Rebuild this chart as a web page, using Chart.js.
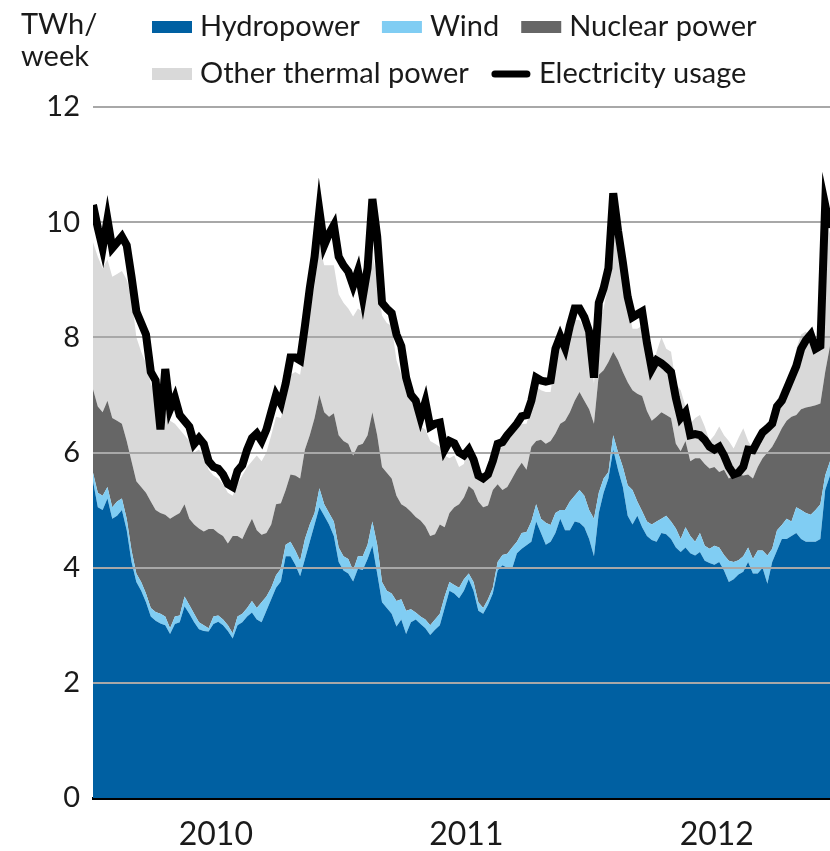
<!DOCTYPE html>
<html>
<head>
<meta charset="utf-8">
<script src="https://cdn.jsdelivr.net/npm/chart.js@4.4.1/dist/chart.umd.min.js"></script>
<style>
  html, body { margin: 0; padding: 0; background: #fff; }
  #wrap { width: 830px; height: 851px; }
</style>
</head>
<body>
<div id="wrap"><canvas id="powerChart"></canvas></div>
<script>
// Weekly power balance, week 1 of 2010 onwards (TWh/week)
const weeks = Array.from({ length: 154 }, (_, i) => i);

const yearTicks = [25.5, 77.5, 129.5];
const yearLabels = ['2010', '2011', '2012'];
const yTicks = [0, 2, 4, 6, 8, 10, 12];

const hydro = [
  5.5, 5.05, 5.0, 5.2, 4.85, 4.9, 5.0, 4.65, 4.1, 3.75,
  3.6, 3.4, 3.15, 3.08, 3.03, 3.0, 2.85, 3.02, 3.05, 3.33,
  3.2, 3.05, 2.93, 2.9, 2.89, 3.02, 3.06, 3.0, 2.9, 2.77,
  3.0, 3.05, 3.15, 3.22, 3.1, 3.05, 3.25, 3.45, 3.65, 3.76,
  4.2, 4.2, 4.05, 3.85, 4.15, 4.45, 4.75, 5.05, 4.9, 4.75,
  4.55, 4.1, 3.95, 3.9, 3.76, 3.98, 3.96, 4.15, 4.38, 3.9,
  3.4, 3.3, 3.2, 2.98, 3.1, 2.85, 3.05, 3.1, 3.02, 2.95,
  2.83, 2.92, 3.0, 3.3, 3.6, 3.55, 3.47, 3.6, 3.8, 3.6,
  3.25, 3.2, 3.35, 3.55, 3.95, 4.04, 4.0, 3.98, 4.25, 4.33,
  4.39, 4.45, 4.8, 4.6, 4.4, 4.45, 4.6, 4.85, 4.65, 4.65,
  4.8, 4.78, 4.7, 4.5, 4.2, 4.95, 5.3, 5.55, 6.05, 5.7,
  5.4, 4.9, 4.75, 4.9, 4.7, 4.55, 4.48, 4.45, 4.6, 4.58,
  4.5, 4.35, 4.27, 4.35, 4.25, 4.21, 4.27, 4.12, 4.08, 4.05,
  4.1, 3.95, 3.75, 3.8, 3.88, 3.93, 4.1, 3.9, 3.9, 4.0,
  3.72, 4.1, 4.3, 4.5, 4.5, 4.55, 4.6, 4.5, 4.45, 4.45,
  4.45, 4.5, 5.35, 5.6
];

const wind = [
  0.15, 0.25, 0.25, 0.2, 0.2, 0.25, 0.2, 0.2, 0.2, 0.15,
  0.15, 0.15, 0.15, 0.15, 0.17, 0.15, 0.1, 0.13, 0.12, 0.17,
  0.15, 0.15, 0.12, 0.1, 0.06, 0.13, 0.11, 0.1, 0.1, 0.09,
  0.15, 0.15, 0.15, 0.2, 0.2, 0.35, 0.25, 0.2, 0.22, 0.22,
  0.2, 0.25, 0.25, 0.27, 0.35, 0.3, 0.2, 0.33, 0.2, 0.2,
  0.25, 0.25, 0.25, 0.25, 0.19, 0.22, 0.24, 0.25, 0.42, 0.5,
  0.35, 0.3, 0.35, 0.44, 0.35, 0.4, 0.23, 0.12, 0.13, 0.15,
  0.17, 0.18, 0.2, 0.2, 0.15, 0.15, 0.18, 0.2, 0.1, 0.15,
  0.15, 0.1, 0.1, 0.1, 0.15, 0.18, 0.24, 0.37, 0.2, 0.27,
  0.23, 0.35, 0.3, 0.25, 0.38, 0.29, 0.35, 0.15, 0.35, 0.5,
  0.45, 0.57, 0.55, 0.5, 0.65, 0.35, 0.25, 0.11, 0.25, 0.3,
  0.35, 0.53, 0.6, 0.25, 0.28, 0.25, 0.27, 0.35, 0.25, 0.32,
  0.3, 0.33, 0.23, 0.35, 0.3, 0.24, 0.33, 0.26, 0.25, 0.33,
  0.25, 0.27, 0.37, 0.3, 0.25, 0.27, 0.25, 0.25, 0.4, 0.3,
  0.49, 0.23, 0.35, 0.24, 0.35, 0.25, 0.45, 0.5, 0.5, 0.47,
  0.55, 0.6, 0.25, 0.25
];

const nuclear = [
  1.45, 1.5, 1.45, 1.5, 1.55, 1.4, 1.3, 1.35, 1.55, 1.6,
  1.65, 1.75, 1.85, 1.77, 1.75, 1.77, 1.9, 1.75, 1.78, 1.6,
  1.5, 1.55, 1.63, 1.63, 1.72, 1.52, 1.43, 1.45, 1.42, 1.69,
  1.4, 1.3, 1.38, 1.43, 1.35, 1.17, 1.1, 1.1, 1.23, 1.14,
  0.95, 1.17, 1.3, 1.43, 1.55, 1.55, 1.65, 1.62, 1.6, 1.67,
  1.88, 1.95, 2.0, 2.0, 2.0, 1.92, 1.95, 1.9, 1.9, 1.9,
  2.0, 2.05, 2.0, 1.83, 1.65, 1.8, 1.69, 1.66, 1.67, 1.62,
  1.55, 1.48, 1.55, 1.2, 1.2, 1.35, 1.45, 1.42, 1.52, 1.6,
  1.75, 1.75, 1.63, 1.7, 1.35, 1.13, 1.16, 1.2, 1.25, 1.22,
  1.08, 1.3, 1.1, 1.37, 1.37, 1.46, 1.38, 1.5, 1.55, 1.55,
  1.65, 1.7, 1.65, 1.75, 1.65, 2.05, 1.88, 1.91, 1.45, 1.6,
  1.65, 1.79, 1.73, 1.87, 2.0, 1.92, 1.8, 1.82, 1.85, 1.75,
  1.8, 1.47, 1.52, 1.5, 1.3, 1.45, 1.3, 1.42, 1.39, 1.37,
  1.31, 1.48, 1.43, 1.5, 1.49, 1.4, 1.27, 1.4, 1.45, 1.6,
  1.79, 1.77, 1.6, 1.68, 1.7, 1.82, 1.6, 1.75, 1.83, 1.88,
  1.82, 1.75, 1.8, 2.0
];

const otherThermal = [
  2.55, 2.6, 2.5, 2.45, 2.45, 2.55, 2.65, 2.8, 2.85, 2.5,
  2.35, 2.25, 2.05, 2.0, 1.65, 1.83, 1.7, 1.6, 1.45, 1.2,
  1.35, 1.25, 1.37, 1.32, 1.03, 0.93, 0.95, 0.9, 0.88, 0.7,
  0.9, 1.1, 1.07, 1.0, 1.3, 1.28, 1.4, 1.55, 1.52, 1.48,
  1.55, 1.73, 1.8, 1.8, 1.85, 2.15, 2.3, 2.6, 2.55, 2.63,
  2.57, 2.45, 2.4, 2.35, 2.41, 2.38, 2.29, 2.7, 2.75, 2.7,
  2.63, 2.6, 2.65, 2.35, 2.25, 2.0, 1.93, 1.82, 1.63, 1.68,
  1.65, 1.57, 1.35, 1.25, 0.95, 0.9, 0.65, 0.58, 0.73, 0.6,
  0.45, 0.45, 0.47, 0.45, 0.6, 0.75, 0.8, 0.75, 0.7, 0.68,
  0.8, 0.7, 0.95, 0.86, 0.9, 0.85, 1.32, 1.35, 1.15, 1.15,
  1.4, 1.25, 1.25, 1.15, 0.7, 0.9, 1.07, 1.38, 2.25, 1.8,
  1.65, 1.38, 1.07, 1.13, 1.22, 0.83, 0.8, 1.13, 1.3, 1.15,
  1.15, 1.05, 1.06, 0.6, 0.65, 0.7, 0.75, 0.65, 0.48, 0.55,
  0.79, 0.6, 0.65, 0.47, 0.63, 0.82, 0.58, 0.52, 0.4, 0.3,
  0.45, 0.5, 0.65, 0.68, 0.65, 0.73, 1.15, 1.3, 1.32, 1.2,
  1.08, 1.05, 2.7, 1.95
];

const usage = [
  10.3, 9.9, 9.55, 10.05, 9.55, 9.65, 9.75, 9.6, 9.05, 8.45,
  8.25, 8.05, 7.4, 7.25, 6.4, 7.45, 6.75, 6.95, 6.65, 6.55,
  6.45, 6.15, 6.25, 6.15, 5.85, 5.75, 5.72, 5.62, 5.45, 5.4,
  5.68, 5.78, 6.05, 6.25, 6.33, 6.2, 6.4, 6.7, 7.0, 6.85,
  7.2, 7.65, 7.65, 7.6, 8.2, 8.85, 9.4, 10.2, 9.6, 9.8,
  9.95, 9.4, 9.25, 9.14, 8.9, 9.15, 8.7, 9.2, 10.4, 9.75,
  8.6, 8.5, 8.42, 8.05, 7.85, 7.3, 7.0, 6.9, 6.6, 6.88,
  6.45, 6.5, 6.52, 6.05, 6.2, 6.16, 6.0, 5.95, 6.05, 5.88,
  5.6, 5.55, 5.62, 5.85, 6.15, 6.18, 6.3, 6.4, 6.5, 6.63,
  6.65, 6.9, 7.3, 7.25, 7.23, 7.25, 7.8, 8.02, 7.82, 8.2,
  8.5, 8.5, 8.35, 8.1, 7.3, 8.6, 8.85, 9.2, 10.5, 9.85,
  9.3, 8.7, 8.35, 8.4, 8.45, 7.9, 7.45, 7.6, 7.55, 7.48,
  7.4, 6.95, 6.6, 6.7, 6.3, 6.32, 6.3, 6.22, 6.1, 6.05,
  6.1, 5.95, 5.75, 5.62, 5.65, 5.75, 6.05, 6.04, 6.2, 6.35,
  6.42, 6.5, 6.8, 6.9, 7.1, 7.3, 7.5, 7.8, 7.95, 8.05,
  7.8, 7.85, 10.3, 9.9
];

const FONT = 'Lato, "Open Sans", sans-serif';
const TEXT = '#1a1a1a';
const GRID = '#a8a8a8';

function area(label, data, color, fill) {
  return {
    label, data, fill,
    backgroundColor: color,
    borderColor: color,
    borderWidth: 0,
    pointRadius: 0,
    tension: 0,
    stack: 'production',
    order: 1
  };
}

// horizontal grid sits above the stacked areas but under the usage line
const gridOverAreas = {
  id: 'gridOverAreas',
  beforeDatasetDraw(chart, args) {
    if (args.index !== 4) return;
    const { ctx, chartArea, scales: { y } } = chart;
    ctx.save();
    ctx.strokeStyle = GRID;
    ctx.lineWidth = 2;
    yTicks.forEach(v => {
      if (v === 0) return;
      const py = Math.round(y.getPixelForValue(v));
      ctx.beginPath();
      ctx.moveTo(chartArea.left, py);
      ctx.lineTo(chartArea.right, py);
      ctx.stroke();
    });
    ctx.restore();
  }
};

// unit label and two-row legend at the top
const header = {
  id: 'header',
  afterDraw(chart) {
    const ctx = chart.ctx;
    ctx.save();
    ctx.fillStyle = TEXT;
    ctx.font = '29px ' + FONT;
    ctx.textAlign = 'left';
    ctx.textBaseline = 'alphabetic';
    ctx.fillText('TWh/', 21, 34);
    ctx.fillText('week', 21, 66);

    const startX = 152;
    const rowBase = [36, 83];
    let x = startX, row = 0;
    chart.data.datasets.forEach(ds => {
      const w = 40 + 8 + ctx.measureText(ds.label).width;
      if (x > startX && x + w > chart.width) { row++; x = startX; }
      const base = rowBase[row];
      if (ds.fill === false) {
        ctx.strokeStyle = ds.borderColor;
        ctx.lineWidth = 7;
        ctx.lineCap = 'round';
        ctx.beginPath();
        ctx.moveTo(x + 4, base - 9);
        ctx.lineTo(x + 36, base - 9);
        ctx.stroke();
      } else {
        ctx.fillStyle = ds.backgroundColor;
        ctx.fillRect(x, base - 15, 40, 12);
      }
      ctx.fillStyle = TEXT;
      ctx.fillText(ds.label, x + 48, base);
      x += w + 22;
    });
    ctx.restore();
  }
};

new Chart(document.getElementById('powerChart'), {
  type: 'line',
  data: {
    labels: weeks,
    datasets: [
      area('Hydropower', hydro, '#0060a2', 'origin'),
      area('Wind', wind, '#80cdf3', '-1'),
      area('Nuclear power', nuclear, '#666666', '-1'),
      area('Other thermal power', otherThermal, '#d9d9d9', '-1'),
      {
        label: 'Electricity usage',
        data: usage,
        fill: false,
        borderColor: '#000000',
        backgroundColor: '#000000',
        borderWidth: 8,
        borderJoinStyle: 'miter',
        pointRadius: 0,
        tension: 0,
        stack: 'usage',
        order: 0
      }
    ]
  },
  options: {
    responsive: true,
    maintainAspectRatio: false,
    animation: false,
    layout: { padding: { top: 107, right: 0, bottom: 0, left: 0 } },
    plugins: {
      legend: { display: false },
      tooltip: { enabled: false }
    },
    scales: {
      x: {
        type: 'linear',
        min: 0,
        max: 153,
        z: 1,
        grid: { display: false, drawTicks: false },
        border: { display: true, color: '#000000', width: 3 },
        afterBuildTicks: scale => { scale.ticks = yearTicks.map(v => ({ value: v })); },
        afterFit: scale => { scale.height = 53; },
        ticks: {
          autoSkip: false,
          maxRotation: 0,
          padding: 17,
          color: TEXT,
          font: { family: FONT, size: 32 },
          callback: (value, index) => yearLabels[index]
        }
      },
      y: {
        stacked: true,
        min: 0,
        max: 12,
        grid: { display: false, drawTicks: false },
        border: { display: false },
        afterBuildTicks: scale => { scale.ticks = yTicks.map(v => ({ value: v })); },
        afterFit: scale => { scale.width = 93; },
        ticks: {
          padding: 13,
          color: TEXT,
          font: { family: FONT, size: 29 }
        }
      }
    }
  },
  plugins: [gridOverAreas, header]
});
</script>
</body>
</html>
